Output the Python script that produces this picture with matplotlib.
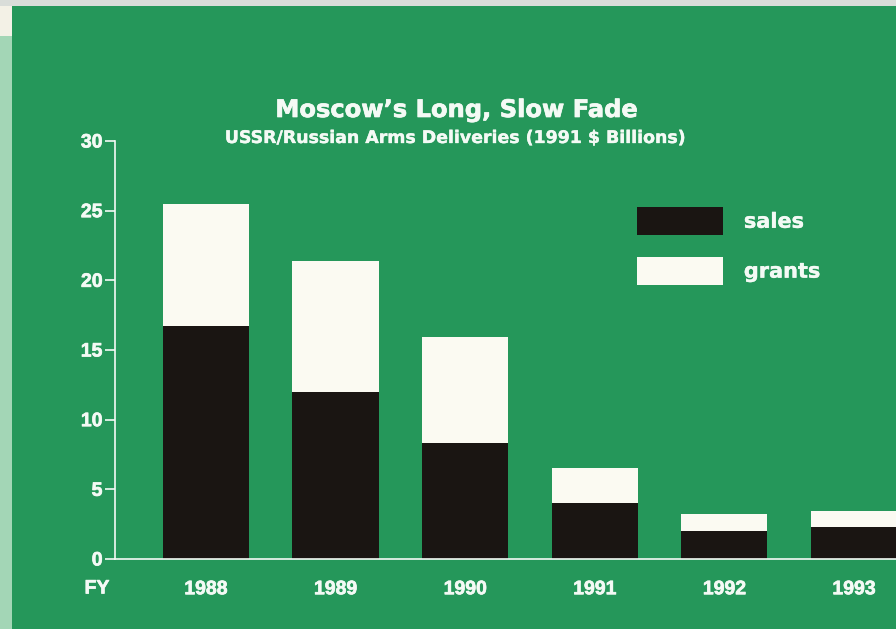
import matplotlib.pyplot as plt
import matplotlib.patheffects as pe
from matplotlib.patches import Rectangle, Patch

years = ['1988', '1989', '1990', '1991', '1992', '1993']
sales = [16.7, 12.0, 8.3, 4.0, 2.0, 2.3]
grants = [8.8, 9.4, 7.6, 2.5, 1.2, 1.15]
yticks = [0, 5, 10, 15, 20, 25, 30]

green = '#25975a'
fg = '#f4faf5'
num_font = ['Liberation Sans', 'DejaVu Sans']
head_font = ['DejaVu Sans']
plt.rcParams['font.family'] = num_font
plt.rcParams['font.weight'] = 'bold'

# slightly heavier lettering
heavy = [pe.withStroke(linewidth=0.5, foreground=fg)]
light = [pe.withStroke(linewidth=0.25, foreground=fg)]

fig = plt.figure(figsize=(8.96, 6.29), dpi=100, facecolor=green)

# paper edges of the page
fig.patches.append(Rectangle((0, 1 - 6/629), 1, 6/629, transform=fig.transFigure,
                             facecolor='#d9ddd9', edgecolor='none', zorder=0))
fig.patches.append(Rectangle((0, 0), 12/896, 1 - 6/629, transform=fig.transFigure,
                             facecolor='#a3d6b6', edgecolor='none', zorder=0))
fig.patches.append(Rectangle((0, 1 - 36/629), 12/896, 30/629, transform=fig.transFigure,
                             facecolor='#f3f1e6', edgecolor='none', zorder=0))

ax = fig.add_axes([115/896, 70/629, 781/896, 418/629])
ax.set_facecolor(green)

x = list(range(len(years)))
ax.bar(x, sales, width=0.665, color='#1a1512', edgecolor='none', zorder=2)
ax.bar(x, grants, width=0.665, bottom=sales, color='#fbfaf2', edgecolor='none', zorder=2)

ax.set_xlim(-0.702, 5.324)
ax.set_ylim(0, 30)
ax.set_yticks(yticks)
ax.set_xticks(x)
ax.set_xticklabels(years)

for side in ['top', 'right']:
    ax.spines[side].set_visible(False)
for side in ['left', 'bottom']:
    ax.spines[side].set_color(fg)
    ax.spines[side].set_linewidth(1.2)

ax.tick_params(axis='y', colors=fg, length=7, width=1.2, pad=2, labelsize=14)
ax.tick_params(axis='x', colors=fg, length=0, pad=16, labelsize=14)
for lab in ax.get_xticklabels() + ax.get_yticklabels():
    lab.set_fontweight('bold')
    lab.set_color(fg)
    lab.set_path_effects(heavy)

fig.text(97/896, 1 - 589/629, 'FY', color=fg, fontsize=14, fontweight='bold',
         ha='center', va='center', path_effects=heavy)

fig.text(456/896, 1 - 110/629, 'Moscow\u2019s Long, Slow Fade', color=fg, fontsize=17.4,
         fontweight='bold', ha='center', va='center', family=head_font, path_effects=heavy)
fig.text(456/896, 1 - 138/629, 'USSR/Russian Arms Deliveries (1991 $ Billions)', color=fg,
         fontsize=12.5, fontweight='bold', ha='center', va='center', family=head_font,
         path_effects=light)

handles = [Patch(facecolor='#1a1512', edgecolor='none', label='sales'),
           Patch(facecolor='#fbfaf2', edgecolor='none', label='grants')]
leg = ax.legend(handles=handles, loc='upper left', bbox_to_anchor=(637/896, 1 - 207/629),
                bbox_transform=fig.transFigure, frameon=False,
                prop={'family': head_font, 'weight': 'bold', 'size': 15},
                handlelength=4.13, handleheight=1.69, labelspacing=1.05,
                handletextpad=1.0, borderpad=0, borderaxespad=0)
for t in leg.get_texts():
    t.set_color(fg)
    t.set_path_effects(light)

fig.savefig('out.png', dpi=100, facecolor=green)
